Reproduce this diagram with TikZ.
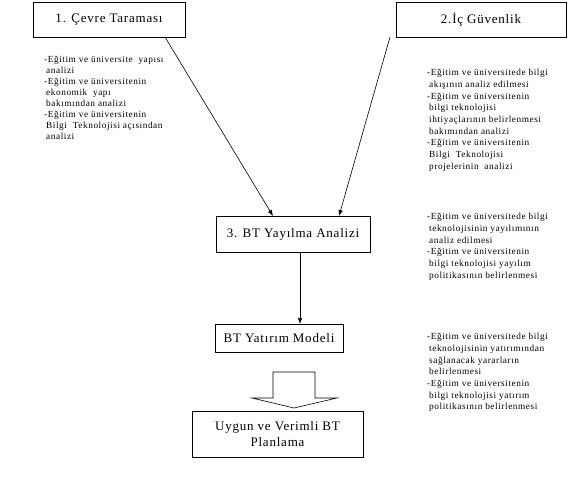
\documentclass[tikz,border=0pt]{standalone}
\usepackage{fontspec}
\setmainfont{Liberation Serif}
\newfontfamily\wide[LetterSpace=6]{Liberation Serif}
\usetikzlibrary{arrows.meta}
\begin{document}
\begin{tikzpicture}[x=1pt,y=-1pt,
  box/.style={draw,line width=0.8pt,inner sep=0pt,font=\wide\fontsize{13}{16}\selectfont},
  note/.style={anchor=north west,inner sep=0pt,align=left,font=\wide\fontsize{9.3}{11.7}\selectfont},
  conn/.style={line width=0.6pt,-{Latex[length=6pt,width=4.5pt]}}]
\useasboundingbox (0,0) rectangle (577,493);
\node[box,minimum width=152pt,minimum height=35pt] (b1) at (109,19.5) {1. Çevre Taraması};
\node[box,minimum width=170pt,minimum height=35pt] (b2) at (481,19.5) {2.İç Güvenlik};
\node[box,minimum width=154pt,minimum height=36pt] (b3) at (293,234) {3. BT Yayılma Analizi};
\node[box,minimum width=128pt,minimum height=28pt] (b4) at (279,338) {BT Yatırım Modeli};
\node[box,minimum width=171pt,minimum height=46pt,align=center] (b5) at (277.5,434) {Uygun ve Verimli BT\\Planlama};
\coordinate (s1) at (165,37);
\coordinate (e1) at (273,216);
\coordinate (s2) at (390,37);
\coordinate (e2) at (339,216);
\draw[conn] (s1) -- (e1);
\draw[conn] (s2) -- (e2);
\coordinate (s3) at (300,252);
\coordinate (e3) at (300,324);
\draw[conn] (s3) -- (e3);
% block arrow
\draw[line width=0.6pt] (273,372) -- (315,372) -- (315,398) -- (337,398) -- (294,408) -- (252,398) -- (273,398) -- cycle;
\node[note,font=\wide\fontsize{9.3}{11}\selectfont] (t1) at (44,56) {-Eğitim ve üniversite\ \ yapısı\\\hspace{2pt}analizi\\-Eğitim ve üniversitenin\\\hspace{2pt}ekonomik\ \ yapı\\\hspace{2pt}bakımından analizi\\-Eğitim ve üniversitenin\\\hspace{2pt}Bilgi\ \ Teknolojisi açısından\\\hspace{2pt}analizi};
\node[note] (t2) at (427,69) {-Eğitim ve üniversitede bilgi\\\hspace{2pt}akışının analiz edilmesi\\-Eğitim ve üniversitenin\\\hspace{2pt}bilgi teknolojisi\\\hspace{2pt}ihtiyaçlarının belirlenmesi\\\hspace{2pt}bakımından analizi\\-Eğitim ve üniversitenin\\\hspace{2pt}Bilgi\ \ Teknolojisi\\\hspace{2pt}projelerinin\ \ analizi};
\node[note] (t3) at (427,213) {-Eğitim ve üniversitede bilgi\\\hspace{2pt}teknolojisinin yayılımının\\\hspace{2pt}analiz edilmesi\\-Eğitim ve üniversitenin\\\hspace{2pt}bilgi teknolojisi yayılım\\\hspace{2pt}politikasının belirlenmesi};
\node[note] (t4) at (427,333) {-Eğitim ve üniversitede bilgi\\\hspace{2pt}teknolojisinin yatırımından\\\hspace{2pt}sağlanacak yararların\\\hspace{2pt}belirlenmesi\\-Eğitim ve üniversitenin\\\hspace{2pt}bilgi teknolojisi yatırım\\\hspace{2pt}politikasının belirlenmesi};
\end{tikzpicture}
\end{document}
